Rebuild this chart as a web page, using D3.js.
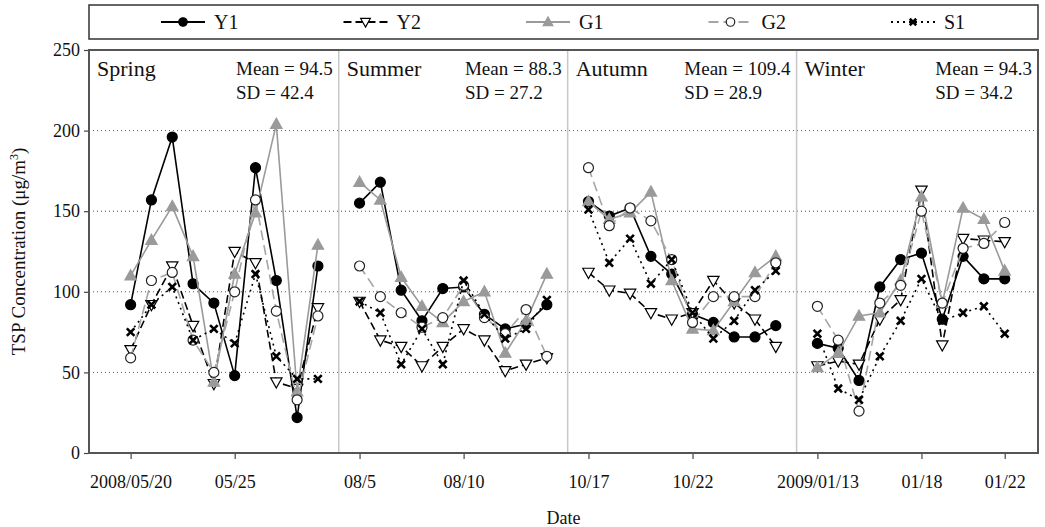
<!DOCTYPE html>
<html>
<head>
<meta charset="utf-8">
<script src="https://cdn.jsdelivr.net/npm/d3@7"></script>
<style>
  body { margin: 0; background: #fff; }
  text { font-family: "Liberation Serif", "DejaVu Serif", serif; fill: #111; }
</style>
</head>
<body>
<div class="graphics"></div>
<script>
// seasons and their stats
var seasons = ["Spring", "Summer", "Autumn", "Winter"]
var means = ["94.5", "88.3", "109.4", "94.3"]
var sds = ["42.4", "27.2", "28.9", "34.2"]

// 10 sampling days per season, a blank slot between seasons
var daysPerSeason = 10

// x tick labels: [season index, day index, label]
var xTickSeason = [0, 0, 1, 1, 2, 2, 3, 3, 3]
var xTickDay = [0, 5, 0, 5, 0, 5, 0, 5, 9]
var xTickLabels = ["2008/05/20", "05/25", "08/5", "08/10", "10/17", "10/22", "2009/01/13", "01/18", "01/22"]

var yTicks = [0, 50, 100, 150, 200, 250]

// TSP values, per site, spring / summer / autumn / winter
var Y1 = [92, 157, 196, 105, 93, 48, 177, 107, 22, 116,
          155, 168, 101, 82, 102, 103, 86, 77, 80, 92,
          156, 147, 152, 122, 111, 86, 81, 72, 72, 79,
          68, 65, 45, 103, 120, 124, 83, 122, 108, 108]
var Y2 = [64, 92, 116, 79, 43, 125, 118, 44, 40, 90,
          94, 70, 66, 54, 66, 77, 70, 51, 55, 59,
          112, 101, 99, 87, 83, 87, 107, 93, 83, 66,
          54, 57, 55, 83, 95, 163, 67, 133, 132, 131]
var G1 = [110, 132, 153, 122, 44, 111, 149, 204, 38, 129,
          168, 157, 109, 91, 81, 94, 100, 62, 82, 111,
          156, 145, 149, 162, 107, 77, 76, 94, 112, 122,
          53, 62, 85, 87, 107, 159, 93, 152, 145, 113]
var G2 = [59, 107, 112, 70, 50, 100, 157, 88, 33, 85,
          116, 97, 87, 78, 84, 104, 84, 74, 89, 60,
          177, 141, 152, 144, 120, 81, 97, 97, 97, 118,
          91, 70, 26, 93, 104, 150, 93, 127, 130, 143]
var S1 = [75, 92, 103, 70, 77, 68, 111, 60, 46, 46,
          94, 87, 55, 77, 55, 107, 86, 71, 77, 95,
          151, 118, 133, 105, 120, 87, 71, 82, 101, 113,
          74, 40, 33, 60, 82, 108, 82, 87, 91, 74]

var seriesNames = ["Y1", "Y2", "G1", "G2", "S1"]
var seriesValues = [Y1, Y2, G1, G2, S1]

// estilos de cada serie
var styles = {
    Y1: {line: "#000", dash: null, marker: "circle", fill: "#000", stroke: "#000"},
    Y2: {line: "#000", dash: "8,4", marker: "triangleDown", fill: "#fff", stroke: "#000"},
    G1: {line: "#9a9a9a", dash: null, marker: "triangle", fill: "#9a9a9a", stroke: "#9a9a9a"},
    G2: {line: "#a5a5a5", dash: "10,5", marker: "circle", fill: "#fff", stroke: "#222"},
    S1: {line: "#000", dash: "2,4", marker: "cross", fill: "#000", stroke: "#000"}
}

var W = 1045, H = 527
var pLeft = 89, pRight = 1038, pTop = 50, pBottom = 453

var slot = function(s, d){ return s * (daysPerSeason + 1) + d }

var x = d3.scaleLinear()
    .domain([-2, 43.6])
    .range([pLeft, pRight])
var y = d3.scaleLinear()
    .domain([0, 250])
    .range([pBottom, pTop])

var svg = d3.select(".graphics").append("svg")
    .attr("width", W)
    .attr("height", H)

// gridlines
svg.append("g").selectAll("line")
    .data(yTicks.filter(function(v){ return v > 0 && v < 250 }))
    .enter().append("line")
    .attr("x1", pLeft).attr("x2", pRight)
    .attr("y1", function(d){ return y(d) }).attr("y2", function(d){ return y(d) })
    .attr("stroke", "#555").attr("stroke-width", 1).attr("stroke-dasharray", "1,3")

// separadores de estaciones
svg.append("g").selectAll("line")
    .data(seasons.slice(1))
    .enter().append("line")
    .attr("x1", function(d, i){ return x(slot(i, daysPerSeason)) })
    .attr("x2", function(d, i){ return x(slot(i, daysPerSeason)) })
    .attr("y1", pTop).attr("y2", pBottom)
    .attr("stroke", "#c8c8c8").attr("stroke-width", 1.5)

// axes
var yAxis = svg.append("g")
    .attr("transform", "translate(" + pLeft + ",0)")
    .call(d3.axisLeft(y).tickValues(yTicks).tickSize(5).tickPadding(4))
var xAxis = svg.append("g")
    .attr("transform", "translate(0," + pBottom + ")")
    .call(d3.axisBottom(x)
        .tickValues(xTickLabels.map(function(d, i){ return slot(xTickSeason[i], xTickDay[i]) }))
        .tickFormat(function(d, i){ return xTickLabels[i] })
        .tickSize(6).tickPadding(16))

;[yAxis, xAxis].forEach(function(a){
    a.select(".domain").remove()
    a.selectAll(".tick line").attr("stroke", "#444").attr("stroke-width", 1.2)
    a.selectAll(".tick text")
        .attr("font-family", "Liberation Serif")
        .attr("font-size", 18)
        .attr("fill", "#111")
})

// frame
svg.append("rect")
    .attr("x", pLeft).attr("y", pTop)
    .attr("width", pRight - pLeft).attr("height", pBottom - pTop)
    .attr("fill", "none").attr("stroke", "#555").attr("stroke-width", 2)

function drawMarker(g, type, st, size){
    if (type === "circle"){
        g.append("circle").attr("r", size * 0.5)
            .attr("fill", st.fill).attr("stroke", st.stroke).attr("stroke-width", 1.2)
    } else if (type === "triangle" || type === "triangleDown"){
        var s = size * 0.6
        var pts = type === "triangle"
            ? [[0, -s], [s * 0.95, s * 0.7], [-s * 0.95, s * 0.7]]
            : [[0, s], [s * 0.95, -s * 0.7], [-s * 0.95, -s * 0.7]]
        g.append("path").attr("d", d3.line()(pts) + "Z")
            .attr("fill", st.fill).attr("stroke", st.stroke).attr("stroke-width", 1.2)
    } else {
        var c = size * 0.38
        g.append("path").attr("d", "M" + (-c) + "," + (-c) + "L" + c + "," + c + "M" + (-c) + "," + c + "L" + c + "," + (-c))
            .attr("stroke", st.stroke).attr("stroke-width", 2.6).attr("fill", "none")
    }
}

// series: one path per season, then markers
seriesNames.forEach(function(name, k){
    var st = styles[name]
    var vals = seriesValues[k]
    var g = svg.append("g").attr("class", "series-" + name)
    var line = d3.line()
        .x(function(d){ return x(d.slot) })
        .y(function(d){ return y(d.v) })
    seasons.forEach(function(s, si){
        var pts = vals.slice(si * daysPerSeason, (si + 1) * daysPerSeason).map(function(v, di){
            return {slot: slot(si, di), v: v}
        })
        g.append("path").datum(pts)
            .attr("d", line)
            .attr("fill", "none")
            .attr("stroke", st.line)
            .attr("stroke-width", 1.6)
            .attr("stroke-dasharray", st.dash)
    })
    vals.forEach(function(v, i){
        var si = Math.floor(i / daysPerSeason), di = i % daysPerSeason
        var m = g.append("g").attr("transform", "translate(" + x(slot(si, di)) + "," + y(v) + ")")
        drawMarker(m, st.marker, st, 10)
    })
})

// season labels and stats
seasons.forEach(function(s, i){
    var x0 = i === 0 ? pLeft : x(slot(i - 1, daysPerSeason))
    var x1 = i === 3 ? pRight : x(slot(i, daysPerSeason))
    svg.append("text").attr("x", x0 + 8).attr("y", 76)
        .attr("font-size", 22).text(s)
    var mt = svg.append("text").attr("x", x1 - 6).attr("y", 75)
        .attr("font-size", 19).attr("text-anchor", "end")
        .text("Mean = " + means[i])
    var bx = mt.node().getBBox().x
    svg.append("text").attr("x", bx).attr("y", 99)
        .attr("font-size", 19)
        .text("SD = " + sds[i])
})

// legend
svg.append("rect")
    .attr("x", pLeft).attr("y", 5)
    .attr("width", pRight - pLeft).attr("height", 34)
    .attr("fill", "#fff").attr("stroke", "#333").attr("stroke-width", 1.5)
var legendX = d3.scalePoint().domain(seriesNames).range([183, 913])
seriesNames.forEach(function(name){
    var st = styles[name]
    var cx = legendX(name), cy = 22
    svg.append("line")
        .attr("x1", cx - 22).attr("x2", cx + 22)
        .attr("y1", cy).attr("y2", cy)
        .attr("stroke", st.line).attr("stroke-width", 1.8)
        .attr("stroke-dasharray", st.dash)
    var m = svg.append("g").attr("transform", "translate(" + cx + "," + cy + ")")
    drawMarker(m, st.marker, st, 8.5)
    svg.append("text").attr("x", cx + 31).attr("y", cy + 7)
        .attr("font-size", 20).text(name)
})

// axis titles
var yTitle = svg.append("text")
    .attr("transform", "translate(25," + ((pTop + pBottom) / 2) + ") rotate(-90)")
    .attr("text-anchor", "middle")
    .attr("font-size", 19)
yTitle.append("tspan").text("TSP Concentration (\u03bcg/m")
yTitle.append("tspan").attr("dy", -7).attr("font-size", 12).text("3")
yTitle.append("tspan").attr("dy", 7).text(")")

svg.append("text")
    .attr("x", (pLeft + pRight) / 2)
    .attr("y", 524)
    .attr("text-anchor", "middle")
    .attr("font-size", 18)
    .text("Date")
</script>
</body>
</html>
